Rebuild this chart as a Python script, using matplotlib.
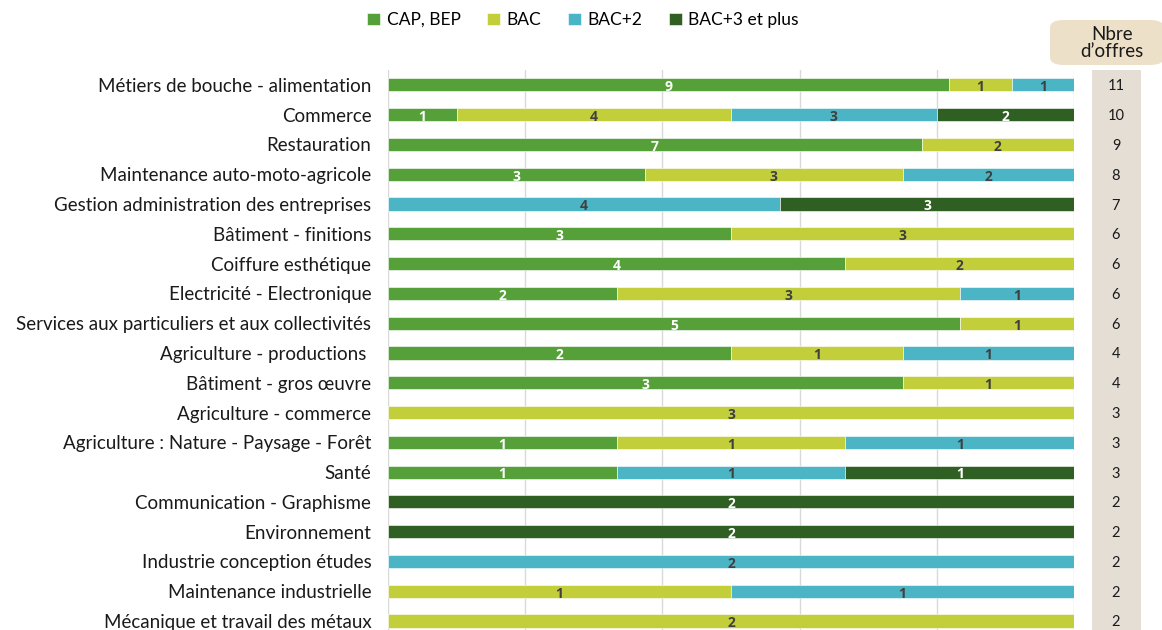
import numpy as np
import matplotlib.pyplot as plt
from matplotlib.patches import FancyBboxPatch, Rectangle

plt.rcParams['font.family'] = ['Lato', 'DejaVu Sans']

categories = ['Métiers de bouche - alimentation', 'Commerce', 'Restauration',
              'Maintenance auto-moto-agricole', 'Gestion administration des entreprises',
              'Bâtiment - finitions', 'Coiffure esthétique', 'Electricité - Electronique',
              'Services aux particuliers et aux collectivités', 'Agriculture - productions ',
              'Bâtiment - gros œuvre', 'Agriculture - commerce',
              'Agriculture : Nature - Paysage - Forêt', 'Santé', 'Communication - Graphisme',
              'Environnement', 'Industrie conception études', 'Maintenance industrielle',
              'Mécanique et travail des métaux']
cap_bep = [9, 1, 7, 3, 0, 3, 4, 2, 5, 2, 3, 0, 1, 1, 0, 0, 0, 0, 0]
bac = [1, 4, 2, 3, 0, 3, 2, 3, 1, 1, 1, 3, 1, 0, 0, 0, 0, 1, 2]
bac2 = [1, 3, 0, 2, 4, 0, 0, 1, 0, 1, 0, 0, 1, 1, 0, 0, 2, 1, 0]
bac3 = [0, 2, 0, 0, 3, 0, 0, 0, 0, 0, 0, 0, 0, 1, 2, 2, 0, 0, 0]
series_names = ['CAP, BEP', 'BAC', 'BAC+2', 'BAC+3 et plus']
colors = ['#56A03A', '#C3CF3A', '#4BB5C5', '#2F5F22']
label_colors = ['white', '#404040', '#404040', 'white']

data = np.array([cap_bep, bac, bac2, bac3], dtype=float)
totals = data.sum(axis=0)
shares = data / totals

fig = plt.figure(figsize=(11.62, 6.3), dpi=100)
ax = fig.add_axes([388 / 1162, 0, 686 / 1162, 560 / 630])

y = np.arange(len(categories))
left = np.zeros(len(categories))
for i in range(4):
    ax.barh(y, shares[i], left=left, height=0.44, color=colors[i],
            edgecolor='#FFFFFF', linewidth=0.4, label=series_names[i], zorder=3)
    for j in range(len(categories)):
        if data[i, j] > 0:
            ax.text(left[j] + shares[i, j] / 2, y[j] + 0.08, f'{int(data[i, j])}',
                    ha='center', va='center', fontsize=10, fontweight='bold',
                    family='Open Sans', color=label_colors[i], zorder=4)
    left += shares[i]

ax.set_xlim(0, 1)
ax.set_ylim(18 + 9 / 29.8, -0.5)
ax.set_xticks(np.arange(0, 1.01, 0.2))
ax.set_xticklabels([])
ax.grid(axis='x', color='#D9D9D9', linewidth=1, zorder=0)
ax.tick_params(axis='both', length=0)
ax.set_yticks(y)
ax.set_yticklabels(categories, fontsize=13.5, color='#1A1A1A')
ax.tick_params(axis='y', pad=12)
for s in ax.spines.values():
    s.set_visible(False)

ax.legend(loc='center', bbox_to_anchor=(583 / 1162, 1 - 20 / 630), bbox_transform=fig.transFigure,
          ncol=4, frameon=False, fontsize=12.5, handlelength=0.75, handleheight=0.75,
          columnspacing=1.5, handletextpad=0.4, borderaxespad=0)

# offers count column
fig.patches.append(Rectangle((1092 / 1162, 0), 49 / 1162, 560 / 630, transform=fig.transFigure,
                             facecolor='#E4DED5', edgecolor='none', zorder=0))
fig.patches.append(FancyBboxPatch((1050 / 1162, 1 - 65 / 630), 114 / 1162, 45 / 630,
                                  boxstyle='round,pad=0,rounding_size=0.012',
                                  transform=fig.transFigure, facecolor='#EDE0C8',
                                  edgecolor='none', zorder=0))
fig.text(1112 / 1162, 1 - 43 / 630, 'Nbre\nd\u2019offres', ha='center', va='center',
         fontsize=13.5, color='#1A1A1A', linespacing=1.05)
for j in range(len(categories)):
    yy = ax.transData.transform((0, y[j] + 0.05))[1] / 630
    fig.text(1116 / 1162, yy, f'{int(totals[j])}', ha='center', va='center',
             fontsize=10.5, color='#1A1A1A')

fig.savefig('out.png', dpi=100)
